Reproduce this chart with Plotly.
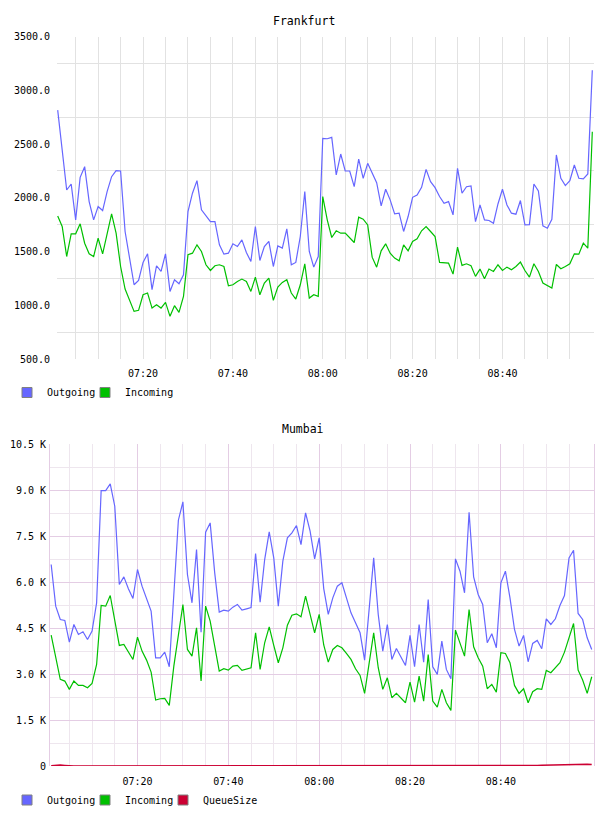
import pandas as pd
import plotly.graph_objects as go

# ---------------- data ----------------
START = "2024-01-01 07:01"   # first sample, one sample per minute

fra_out = [2817, 2450, 2073, 2129, 1795, 2191, 2290, 1965, 1795, 1919,
           1882, 2058, 2197, 2253, 2250, 1687, 1439, 1191, 1231, 1399,
           1479, 1145, 1368, 1315, 1479, 1129, 1238, 1200, 1284, 1872,
           2043, 2160, 1888, 1832, 1779, 1779, 1563, 1476, 1485, 1572,
           1547, 1609, 1491, 1408, 1733, 1417, 1547, 1594, 1361, 1553,
           1532, 1711, 1377, 1399, 1640, 2058, 1501, 1355, 1454, 2553,
           2550, 2563, 2213, 2408, 2250, 2250, 2104, 2361, 2182, 2321,
           2228, 2141, 1925, 2080, 1981, 1851, 1857, 1687, 1826, 2005,
           2027, 2098, 2265, 2151, 2095, 2012, 1950, 1965, 1841, 2275,
           2043, 2104, 2111, 1779, 1934, 1795, 1789, 1764, 1943, 2080,
           1934, 1857, 1848, 1975, 1748, 1751, 2129, 2064, 1739, 1717,
           1801, 2399, 2182, 2114, 2160, 2306, 2182, 2176, 2222, 3188]

fra_in = [1832, 1733, 1454, 1665, 1665, 1758, 1578, 1479, 1454, 1625,
          1479, 1665, 1851, 1671, 1361, 1151, 1046, 943, 953, 1098,
          1114, 974, 1005, 974, 1027, 897, 996, 934, 1083, 1470,
          1485, 1563, 1501, 1377, 1324, 1368, 1377, 1361, 1182, 1191,
          1222, 1244, 1222, 1129, 1262, 1098, 1207, 1253, 1046, 1170,
          1213, 1238, 1114, 1058, 1191, 1386, 1067, 1098, 1083, 2012,
          1795, 1631, 1693, 1671, 1671, 1631, 1584, 1820, 1801, 1748,
          1448, 1355, 1507, 1572, 1485, 1439, 1414, 1563, 1507, 1594,
          1618, 1693, 1733, 1687, 1640, 1399, 1399, 1392, 1290, 1541,
          1371, 1386, 1368, 1269, 1337, 1247, 1337, 1315, 1377, 1324,
          1355, 1331, 1361, 1402, 1324, 1262, 1386, 1315, 1207, 1185,
          1160, 1380, 1340, 1361, 1386, 1479, 1476, 1578, 1532, 2615]

mum_out = [6576, 5217, 4782, 4750, 4043, 4619, 4293, 4380, 4130, 4402,
           5326, 8989, 8989, 9207, 8478, 5924, 6174, 5783, 5467, 6413,
           5870, 5435, 5054, 3532, 3532, 3717, 3239, 5600, 8022, 8620,
           6250, 5326, 7065, 4369, 7630, 7935, 6304, 5022, 5087, 5054,
           5185, 5272, 5087, 5130, 5174, 6935, 5348, 6739, 7641, 6793,
           5217, 6685, 7446, 7609, 7848, 7228, 8261, 7663, 6761, 7446,
           5790, 4946, 5489, 5870, 5978, 5489, 5000, 4674, 4348, 3456,
           5000, 6793, 4946, 3750, 4619, 3478, 3837, 3565, 3282, 4261,
           3239, 4619, 3391, 5435, 3239, 2989, 4076, 3152, 2848, 6761,
           6359, 5652, 8283, 6174, 5598, 5272, 4022, 4315, 3858, 5978,
           6359, 5489, 4456, 3913, 4261, 3402, 4000, 4098, 3826, 4804,
           4619, 4804, 5239, 5565, 6793, 7043, 4978, 4782, 4185, 3804]

mum_in = [4272, 3532, 2826, 2772, 2500, 2772, 2630, 2630, 2554, 2695,
          3315, 5239, 5217, 5565, 4804, 3935, 3967, 3717, 3478, 4206,
          3750, 3456, 3065, 2152, 2196, 2206, 1978, 3261, 4348, 5272,
          3804, 3587, 4511, 2772, 5217, 4728, 3913, 3098, 3174, 3130,
          3261, 3282, 3119, 3174, 3207, 4348, 3152, 4022, 4543, 3935,
          3370, 3858, 4598, 4924, 4967, 4869, 5543, 4946, 4348, 4946,
          3950, 3391, 3804, 3935, 3858, 3674, 3478, 3174, 2956, 2369,
          3315, 4348, 3207, 2500, 2880, 2228, 2369, 2228, 2065, 2739,
          2087, 2935, 2119, 3641, 2119, 1923, 2500, 2065, 1815, 4435,
          4000, 3587, 5109, 3891, 3532, 3261, 2522, 2663, 2413, 3696,
          3674, 3370, 2630, 2369, 2522, 2065, 2424, 2522, 2500, 3119,
          3043, 3207, 3370, 3717, 4185, 4652, 3130, 2804, 2369, 2913]

mum_queue = [5, 25, 30, 20, 5, 0, 0, 0, 0, 0,
             0, 0, 0, 0, 0, 0, 0, 0, 0, 0,
             0, 0, 0, 0, 0, 0, 0, 0, 0, 0,
             0, 0, 0, 0, 0, 0, 0, 0, 0, 0,
             0, 0, 0, 0, 0, 0, 0, 0, 0, 0,
             0, 0, 0, 0, 0, 0, 0, 0, 0, 0,
             0, 0, 0, 0, 0, 0, 0, 0, 0, 0,
             0, 0, 0, 0, 0, 0, 0, 0, 0, 0,
             0, 0, 0, 0, 0, 0, 0, 0, 0, 0,
             0, 0, 0, 0, 0, 0, 0, 0, 0, 0,
             0, 0, 0, 0, 5, 10, 15, 20, 25, 30,
             35, 40, 45, 50, 55, 60, 60, 58, 55, 45]

x_ticklabels = ["07:20", "07:40", "08:00", "08:20", "08:40"]
fra_yticks = [500, 1000, 1500, 2000, 2500, 3000, 3500]
fra_ygrid = [750, 1250, 1750, 2250, 2750, 3250]
mum_yticks = [0, 1500, 3000, 4500, 6000, 7500, 9000, 10500]
mum_yticktext = ["0", "1.5 K", "3.0 K", "4.5 K", "6.0 K", "7.5 K", "9.0 K", "10.5 K"]
mum_ygrid = [750, 2250, 3750, 5250, 6750, 8250, 9750]

# ---------------- styling ----------------
W, H = 608, 816
FONT = "DejaVu Sans Mono"
C_OUT, C_IN, C_Q = "#6666ff", "#00c000", "#cc0033"
DAY = "2024-01-01 "

times = pd.date_range(START, periods=len(fra_out), freq="min")
base = pd.Timestamp(DAY + "07:00")
major_x = [pd.Timestamp(DAY + s) for s in x_ticklabels]
minor_x = [m for m in pd.date_range(DAY + "07:05", DAY + "08:55", freq="5min") if m.minute % 20 != 0]


def t(minutes):
    return (base + pd.Timedelta(minutes=minutes)).strftime("%Y-%m-%d %H:%M:%S.%f")


fig = go.Figure()

fig.add_trace(go.Scatter(x=times, y=fra_out, mode="lines", line=dict(color=C_OUT, width=1.2),
                         name="Outgoing", showlegend=False, xaxis="x", yaxis="y"))
fig.add_trace(go.Scatter(x=times, y=fra_in, mode="lines", line=dict(color=C_IN, width=1.2),
                         name="Incoming", showlegend=False, xaxis="x", yaxis="y"))
fig.add_trace(go.Scatter(x=times, y=mum_out, mode="lines", line=dict(color=C_OUT, width=1.2),
                         name="Outgoing", showlegend=False, xaxis="x2", yaxis="y2"))
fig.add_trace(go.Scatter(x=times, y=mum_in, mode="lines", line=dict(color=C_IN, width=1.2),
                         name="Incoming", showlegend=False, xaxis="x2", yaxis="y2"))
fig.add_trace(go.Scatter(x=times, y=mum_queue, mode="lines", line=dict(color=C_Q, width=1.5),
                         name="QueueSize", showlegend=False, xaxis="x2", yaxis="y2", cliponaxis=False))


def swatch(name, color, legend, xa, ya, visible_marker=True):
    fig.add_trace(go.Scatter(
        x=[None], y=[None], mode="markers", name=name, legend=legend, xaxis=xa, yaxis=ya,
        marker=dict(symbol="square", size=10,
                    color=color if visible_marker else "rgba(0,0,0,0)",
                    line=dict(color="#808080" if visible_marker else "rgba(0,0,0,0)", width=1))))


swatch("Outgoing", C_OUT, "legend", "x", "y")
swatch("Incoming", C_IN, "legend", "x", "y")
swatch(" ", None, "legend", "x", "y", visible_marker=False)
swatch("Outgoing", C_OUT, "legend2", "x2", "y2")
swatch("Incoming", C_IN, "legend2", "x2", "y2")
swatch("QueueSize", C_Q, "legend2", "x2", "y2")
swatch(" ", None, "legend2", "x2", "y2", visible_marker=False)

tickfont = dict(family=FONT, size=10, color="#000000")
grey = "#e2e2e2"
pink_major = "#e4cde4"
pink_minor = "#eee6ee"

common_x = dict(type="date", tickmode="array", tickvals=major_x, ticktext=x_ticklabels,
                ticks="", tickfont=tickfont, showline=False, zeroline=False, fixedrange=True,
                automargin=False)

fig.update_layout(
    template=None,
    width=W, height=H, margin=dict(l=0, r=0, t=0, b=0, autoexpand=False),
    paper_bgcolor="white", plot_bgcolor="white",
    font=dict(family=FONT, size=10, color="#000000"),
    xaxis=dict(domain=[57 / W, 594 / W], anchor="y", range=[t(0.844), t(120.378)],
               showgrid=True, gridcolor=grey, gridwidth=1,
               minor=dict(tickmode="array", tickvals=minor_x, showgrid=True, gridcolor=grey, gridwidth=1),
               ticklabelstandoff=7, **common_x),
    yaxis=dict(domain=[1 - 359 / H, 1 - 36.7 / H], anchor="x",
               range=[500, 3500], tickmode="array", tickvals=fra_yticks, tickformat=".1f",
               showgrid=False,
               minor=dict(tickmode="array", tickvals=fra_ygrid, showgrid=True, gridcolor=grey, gridwidth=1),
               ticks="", ticklabelstandoff=6, tickfont=tickfont, automargin=False,
               showline=False, zeroline=False, fixedrange=True),
    xaxis2=dict(domain=[50 / W, 594 / W], anchor="y2", range=[t(0.74), t(120.5)],
                showgrid=True, gridcolor=pink_major, gridwidth=1,
                minor=dict(tickmode="array", tickvals=minor_x, showgrid=True, gridcolor=pink_minor, gridwidth=1),
                ticklabelstandoff=8, **common_x),
    yaxis2=dict(domain=[1 - 766 / H, 1 - 444.3 / H], anchor="x2",
                range=[0, 10500], tickmode="array", tickvals=mum_yticks, ticktext=mum_yticktext,
                showgrid=True, gridcolor=pink_major, gridwidth=1,
                minor=dict(tickmode="array", tickvals=mum_ygrid, showgrid=True, gridcolor=pink_minor, gridwidth=1),
                ticks="", ticklabelstandoff=1, tickfont=tickfont, automargin=False,
                showline=True, mirror=True, linecolor=pink_major, linewidth=1,
                zeroline=False, fixedrange=True),
    legend=dict(orientation="h", x=7 / W, xanchor="left", y=1 - 392.5 / H, yanchor="middle",
                font=dict(family=FONT, size=10, color="#000000"),
                entrywidth=33, entrywidthmode="pixels", bgcolor="rgba(0,0,0,0)",
                itemclick=False, itemdoubleclick=False),
    legend2=dict(orientation="h", x=7 / W, xanchor="left", y=1 - 800 / H, yanchor="middle",
                 font=dict(family=FONT, size=10, color="#000000"),
                 entrywidth=33, entrywidthmode="pixels", bgcolor="rgba(0,0,0,0)",
                 itemclick=False, itemdoubleclick=False),
    annotations=[
        dict(text="Frankfurt", x=303.5 / W, y=1 - 20.5 / H, xref="paper", yref="paper",
             xanchor="center", yanchor="middle", showarrow=False,
             font=dict(family=FONT, size=11.5, color="#000000")),
        dict(text="Mumbai", x=303 / W, y=1 - 429 / H, xref="paper", yref="paper",
             xanchor="center", yanchor="middle", showarrow=False,
             font=dict(family=FONT, size=11.5, color="#000000")),
    ],
)

fig.write_html("out.html", config={"displayModeBar": False},
               post_script="document.body.style.margin='0';")
